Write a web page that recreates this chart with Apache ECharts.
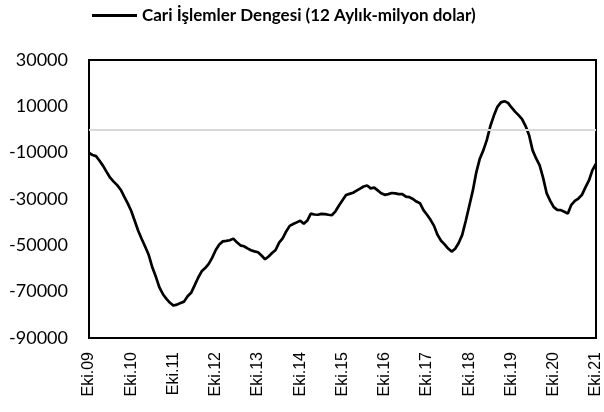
<!DOCTYPE html>
<html>
<head>
<meta charset="utf-8">
<title>Cari İşlemler Dengesi</title>
<script src="https://cdn.jsdelivr.net/npm/echarts@6/dist/echarts.min.js"></script>
<style>
    html, body {margin: 0; padding: 0; background: #fff;}
    #cid {width: 604px; height: 412px;}
</style>
</head>
<body>
<div id="cid"></div>
<script>
    /*ay isimleri, Ekim 2009 - Ekim 2021*/
    var aylar = ['Oca', 'Şub', 'Mar', 'Nis', 'May', 'Haz', 'Tem', 'Ağu', 'Eyl', 'Eki', 'Kas', 'Ara'];
    var baslangicYil = 2009;
    var baslangicAy = 9; // Eki

    /*12 aylık cari denge, milyon dolar*/
    var cariDenge = [
        -10100, -11000, -11500, -13500, -15700, -18300, -20800, -22500, -24000, -26000, -29000, -31900,
        -35200, -39500, -43800, -47400, -50700, -54300, -59600, -63600, -68200, -71100, -73100, -74800,
        -76000, -75600, -74900, -74300, -72000, -70500, -67300, -64000, -61200, -59800, -58000, -55300,
        -52000, -49600, -48300, -48100, -47800, -47100, -48700, -50000, -50400, -51300, -52100, -52600,
        -53000, -54400, -56000, -54800, -53300, -52000, -48800, -47000, -44000, -41600, -40800, -40100,
        -39400, -40700, -39300, -36300, -36700, -36800, -36400, -36500, -36800, -37000, -35300, -32800,
        -30500, -28300, -27800, -27300, -26400, -25500, -24600, -24200, -25400, -25100, -26300, -27500,
        -28200, -27900, -27400, -27600, -27900, -27900, -29000, -29200, -30000, -31100, -31800, -34800,
        -36800, -39000, -41600, -45500, -48000, -49600, -51400, -52700, -51500, -49000, -45500, -39500,
        -33000, -26500, -18500, -12600, -9000, -4500, 1500, 6000, 9800, 11700, 12200, 11500,
        9500, 7700, 6200, 4500, 1500, -2500, -9000, -12500, -15500, -21000, -27600, -30800,
        -33500, -34700, -34800, -35500, -36300, -32500, -30800, -29800, -28200, -25000, -22000, -17500,
        -14800
    ];

    /*y ekseni*/
    var yMin = -90000;
    var yMax = 30000;
    var yAralik = 20000;

    var kategoriler = [];
    for (var i = 0; i < cariDenge.length; i++) {
        var ay = (baslangicAy + i) % 12;
        var yil = baslangicYil + Math.floor((baslangicAy + i) / 12);
        kategoriler.push(aylar[ay] + '.' + String(yil).slice(2));
    }

    var chartCid = echarts.init(document.getElementById('cid'));
    var option = {
        animation: false,
        legend: {
            top: 2,
            left: 87,
            icon: 'rect',//sadece cizgi, nokta yok
            itemWidth: 45,
            itemHeight: 3,
            itemGap: 4,
            textStyle: {
                fontFamily: 'Lato',
                fontWeight: 'bold',
                fontSize: 17,
                color: '#000'
            },
            data: ['Cari İşlemler Dengesi (12 Aylık-milyon dolar)']
        },
        grid: {
            show: true,
            left: 89,
            right: 7,
            top: 60,
            bottom: 74,
            borderColor: '#000',
            borderWidth: 2,
            containLabel: false
        },
        xAxis: {
            type: 'category',
            boundaryGap: false,
            data: kategoriler,
            axisLine: {show: false},//kenarlik grid'den
            axisTick: {show: false},
            splitLine: {show: false},
            axisLabel: {
                interval: function (idx) { return idx % 12 === 0; },
                rotate: 90,
                margin: 14,
                fontFamily: 'Liberation Sans',
                fontSize: 16,
                color: '#000'
            }
        },
        yAxis: {
            type: 'value',
            min: yMin,
            max: yMax,
            interval: yAralik,
            axisLine: {show: false},
            axisTick: {show: false},
            splitLine: {show: false},
            axisLabel: {
                margin: 21,
                fontFamily: 'Lato',
                fontSize: 18,
                color: '#000',
                formatter: function (v) { return String(v); }
            }
        },
        series: [
            {
                name: 'Cari İşlemler Dengesi (12 Aylık-milyon dolar)',
                type: 'line',
                symbol: 'none',
                smooth: false,
                lineStyle: {color: '#000', width: 2.7},
                itemStyle: {color: '#000'},
                data: cariDenge,
                markLine: {
                    silent: true,
                    symbol: 'none',
                    label: {show: false},
                    lineStyle: {color: '#d9d9d9', width: 2, type: 'solid'},
                    data: [{yAxis: 0}]
                }
            }
        ]
    };
    chartCid.setOption(option);
</script>
</body>
</html>
